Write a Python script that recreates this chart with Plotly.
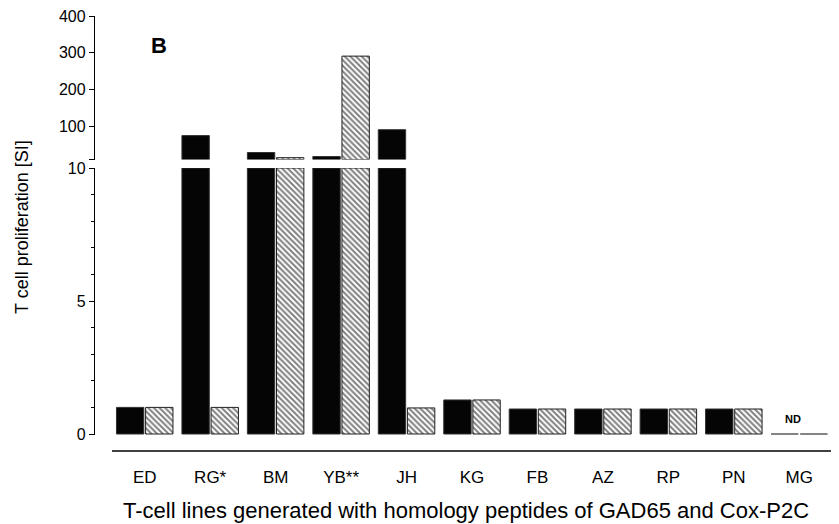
import plotly.graph_objects as go

# ---------------- data ----------------
categories = ["ED", "RG*", "BM", "YB**", "JH", "KG", "FB", "AZ", "RP", "PN", "MG"]
gad65_si = [1.0, 75, 29, 18, 91, 1.28, 0.94, 0.94, 0.94, 0.94, None]      # black bars
coxp2c_si = [1.0, 1.0, 15, 291, 0.98, 1.28, 0.94, 0.94, 0.94, 0.94, None]  # hatched bars
not_done = ["MG"]
lower_ticks = [0, 5, 10]
upper_ticks = [10, 100, 200, 300, 400]
upper_ticktext = ["", "100", "200", "300", "400"]
BREAK = 10

# ---------------- layout geometry (reference pixel coords; page body adds 8px) ----------------
OFF = 8
W, H = 839 - OFF, 524 - OFF
ML, MT = 95 - OFF, 10 - OFF
PLOT_R, PLOT_B = 832 - OFF, 451 - OFF
MR, MB = W - PLOT_R, H - PLOT_B
PW, PH = W - ML - MR, H - MT - MB
def py(p):  # reference pixel row -> paper y
    return (451 - p) / PH
def px(p):  # reference pixel column -> paper x
    return (p - 95) / PW

y0_px, y10_px = 434, 168
unit = (y0_px - y10_px) / 10.0
low_min = -0.04
low_dom = [py(y0_px - low_min * unit), py(y10_px)]
up_dom = [py(159.5), py(16)]

x_unit = (832 - 112) / len(categories)
x_range = [-0.5 - (112 - 95) / x_unit, len(categories) - 0.5]

BARGAP, BARGROUPGAP = 0.11, 0.06
FONT = "Liberation Sans, Arial, sans-serif"

xs = list(range(len(categories)))
low_black = [None if v is None else min(v, BREAK) for v in gad65_si]
low_hatch = [None if v is None else min(v, BREAK) for v in coxp2c_si]
up_black = [v - BREAK if (v is not None and v > BREAK) else None for v in gad65_si]
up_hatch = [v - BREAK if (v is not None and v > BREAK) else None for v in coxp2c_si]

black_marker = dict(color="#050505", line=dict(color="#333333", width=1))
hatch_marker = dict(color="white",
                    pattern=dict(shape="\\", fgcolor="#000000", bgcolor="white", size=4, solidity=0.5),
                    line=dict(color="#222222", width=1))

fig = go.Figure()
fig.add_trace(go.Bar(x=xs, y=low_black, marker=black_marker, yaxis="y", showlegend=False, hoverinfo="skip"))
fig.add_trace(go.Bar(x=xs, y=low_hatch, marker=hatch_marker, yaxis="y", showlegend=False, hoverinfo="skip"))
fig.add_trace(go.Bar(x=xs, y=up_black, base=BREAK, marker=black_marker, yaxis="y2", showlegend=False, hoverinfo="skip"))
fig.add_trace(go.Bar(x=xs, y=up_hatch, base=BREAK, marker=hatch_marker, yaxis="y2", showlegend=False, hoverinfo="skip"))

# ND dashes at baseline for categories not determined
slot = (1 - BARGAP) / 2
bw = slot * (1 - BARGROUPGAP)
for cat in not_done:
    i = categories.index(cat)
    for c in (i - slot / 2, i + slot / 2):
        fig.add_trace(go.Scatter(x=[c - bw / 2, c + bw / 2], y=[0, 0], mode="lines",
                                 line=dict(color="#333333", width=1.2), yaxis="y",
                                 showlegend=False, hoverinfo="skip", cliponaxis=False))
    fig.add_annotation(x=i - 0.09, y=0.55, xref="x", yref="y", text="<b>ND</b>", showarrow=False,
                       xanchor="center", yanchor="middle",
                       font=dict(family=FONT, size=11, color="black"))

axis_common = dict(showgrid=False, zeroline=False, showline=True, linecolor="black", linewidth=1.3,
                   ticks="outside", ticklen=5, tickwidth=1.2, tickcolor="black",
                   ticklabeloverflow="allow",
                   tickfont=dict(family=FONT, size=16, color="black"))

fig.update_layout(
    width=W, height=H,
    margin=dict(l=ML, r=MR, t=MT, b=MB, autoexpand=False),
    paper_bgcolor="white", plot_bgcolor="white",
    barmode="group", bargap=BARGAP, bargroupgap=BARGROUPGAP,
    xaxis=dict(domain=[0, 1], range=x_range, tickmode="array",
               tickvals=xs, ticktext=categories, showgrid=False, zeroline=False, showline=False,
               ticks="outside", ticklen=11, tickcolor="rgba(0,0,0,0)",
               anchor="free", position=0, ticklabeloverflow="allow",
               tickfont=dict(family=FONT, size=17, color="black")),
    yaxis=dict(domain=low_dom, range=[low_min, BREAK], tickmode="array", tickvals=lower_ticks,
               anchor="x",
               minor=dict(dtick=1, ticks="outside", ticklen=3, tickcolor="black", tickwidth=1),
               **axis_common),
    yaxis2=dict(domain=up_dom, range=[BREAK, 400], tickmode="array", tickvals=upper_ticks,
                ticktext=upper_ticktext, anchor="x", **axis_common),
    showlegend=False,
)

# x axis baseline (offset from the y axis, as in the original)
fig.add_shape(type="line", xref="paper", yref="paper", x0=px(112), x1=1, y0=0, y1=0,
              line=dict(color="black", width=1.3))

fig.add_annotation(x=px(22), y=py(227), xref="paper", yref="paper", text="T cell proliferation [SI]",
                   textangle=-90, showarrow=False, xanchor="center", yanchor="middle",
                   font=dict(family=FONT, size=18, color="black"))
fig.add_annotation(x=px(466), y=py(510), xref="paper", yref="paper",
                   text="T-cell lines generated with homology peptides of GAD65 and Cox-P2C",
                   showarrow=False, xanchor="center", yanchor="middle",
                   font=dict(family=FONT, size=22, color="black"))
fig.add_annotation(x=px(159), y=py(45), xref="paper", yref="paper", text="<b>B</b>",
                   showarrow=False, xanchor="center", yanchor="middle",
                   font=dict(family=FONT, size=22, color="black"))

fig.write_html("out.html")
